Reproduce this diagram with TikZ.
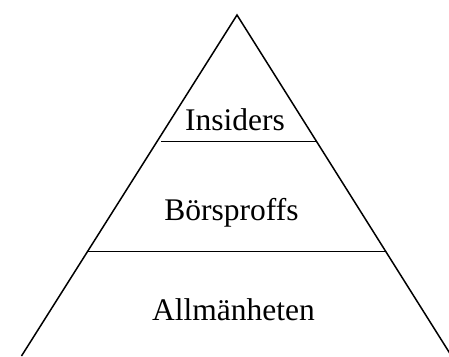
\documentclass[tikz,border=0pt]{standalone}
\usepackage{fontspec}
\setmainfont{Liberation Serif}
\begin{document}
\begin{tikzpicture}[x=1pt,y=1pt,
  edge/.style={line width=1.5pt,black},
  tier/.style={anchor=base,inner sep=0pt,font=\fontsize{31.5}{36}\selectfont}]
  \useasboundingbox (0,0) rectangle (449,356);
  \clip (0,0) rectangle (449,356);
  % pyramid outline
  \coordinate (apex) at (237,341);
  \coordinate (bl) at (21.5,0);
  \coordinate (br) at (451.5,0);
  \draw[edge] (bl) -- (apex) -- (br);
  % tier dividers
  \coordinate (d1l) at (161,214.3);
  \coordinate (d1r) at (316.5,214.3);
  \coordinate (d2l) at (87.5,104.3);
  \coordinate (d2r) at (385.5,104.3);
  \draw[edge] (d1l) -- (d1r);
  \draw[edge] (d2l) -- (d2r);
  % tier labels
  \node[tier] (top) at (235,225) {Insiders};
  \node[tier] (mid) at (231.5,135) {Börsproffs};
  \node[tier] (low) at (233.5,36) {Allmänheten};
\end{tikzpicture}
\end{document}
